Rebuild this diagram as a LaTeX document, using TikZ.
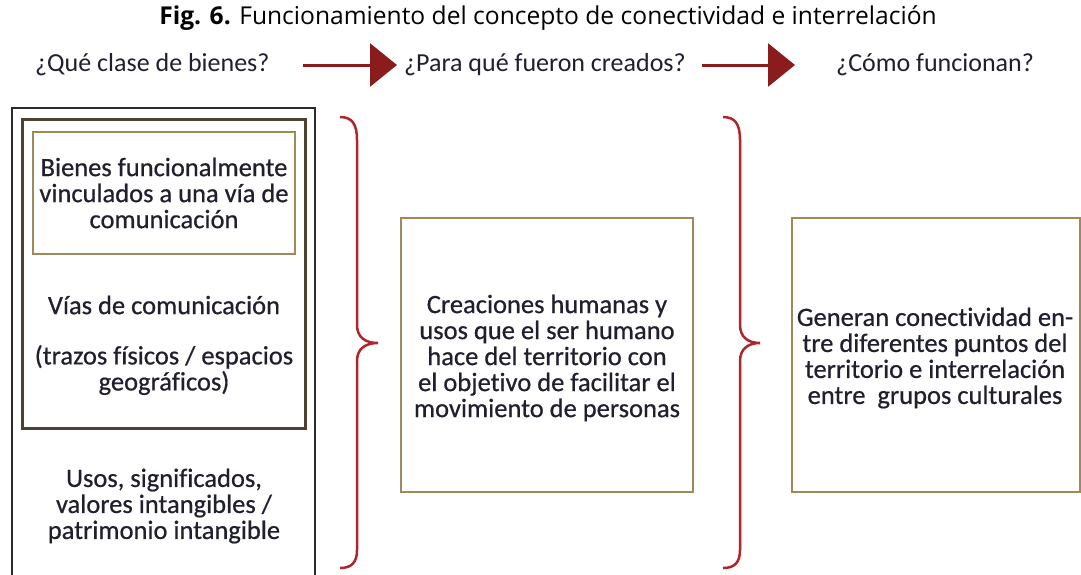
\documentclass[tikz,border=0pt]{standalone}
\usepackage{fontspec}
\setmainfont[Ligatures=NoCommon]{Carlito}
\newfontfamily\bodyfont[FakeBold=0.6, Ligatures=NoCommon]{Carlito}
\newfontfamily\titlefont{Open Sans}
\usetikzlibrary{arrows.meta}
\definecolor{txt}{HTML}{1F1F2E}
\definecolor{gold}{HTML}{A08858}
\definecolor{dkbrown}{HTML}{4B4232}
\definecolor{outer}{HTML}{2B2B2B}
\definecolor{arrred}{HTML}{8B1C1E}
\definecolor{bracered}{HTML}{B0242C}
\tikzset{
  hdr/.style={inner sep=0pt, anchor=west, text=txt, font=\fontsize{26}{30}\selectfont},
  body/.style={inner sep=0pt, align=center, text=txt, font=\bodyfont\fontsize{26.5}{26}\selectfont},
  goldbox/.style={draw=gold, line width=2.5pt},
  arr/.style={draw=arrred, line width=3pt, -{Triangle[length=27pt, width=43pt]}},
  brace/.style={draw=bracered, line width=2.5pt}
}
\begin{document}
\begin{tikzpicture}[x=1pt, y=-1pt]
\useasboundingbox (0,0) rectangle (1081,574);
\clip (0,0) rectangle (1081,574);
% title
\node[inner sep=0pt, text=black, font=\titlefont\fontsize{24.6}{28}\selectfont] (title) at (548,18) {\textbf{Fig. 6.} Funcionamiento del concepto de conectividad e interrelación};
% header
\node[hdr] (q1) at (35,65) {¿Qué clase de bienes?};
\node[hdr] (q2) at (404,65) {¿Para qué fueron creados?};
\node[hdr] (q3) at (836,65) {¿Cómo funcionan?};
\coordinate (a1s) at (303,65);
\coordinate (a2s) at (702,65);
\draw[arr, shorten >=7pt] (a1s) -- (q2.west);
\draw[arr, shorten >=41pt] (a2s) -- (q3.west);
% left column
\node[draw=outer, line width=2.5pt, minimum width=303pt, minimum height=492pt, inner sep=0pt] (outerbox) at (163.5,354) {};
\node[draw=dkbrown, line width=3pt, minimum width=283pt, minimum height=309pt, inner sep=0pt] (midbox) at (163.5,273.5) {};
\node[goldbox, minimum width=262pt, minimum height=122pt, inner sep=0pt] (inbox) at (164,193) {};
\node[body] (t1) at (inbox) {Bienes funcionalmente\\vinculados a una vía de\\comunicación};
\node[body] (t2) at (164,305) {Vías de comunicación};
\node[body] (t3) at (164,370) {(trazos físicos / espacios\\geográficos)};
\node[body] (t4) at (164,506) {Usos, significados,\\valores intangibles /\\patrimonio intangible};
% middle
\node[goldbox, minimum width=292pt, minimum height=274pt, inner sep=0pt] (mbox) at (547,355) {};
\node[body] (mt) at (547,358) {Creaciones humanas y\\usos que el ser humano\\hace del territorio con\\el objetivo de facilitar el\\movimiento de personas};
% right
\node[goldbox, minimum width=288pt, minimum height=274pt, inner sep=0pt] (rbox) at (936,355) {};
\node[body] (rt) at (935,358) {Generan conectividad en-\\tre diferentes puntos del\\territorio e interrelación\\entre~ grupos culturales};
% braces
\draw[brace] (340,117) .. controls (352,117) and (357,124) .. (357,140) -- (357,325) .. controls (357,337) and (365,343) .. (378,343) .. controls (365,343) and (357,349) .. (357,361) -- (357,550) .. controls (357,562) and (352,568) .. (340,568);
\draw[brace] (723,117) .. controls (735,117) and (740,124) .. (740,140) -- (740,325) .. controls (740,337) and (748,343) .. (760,343) .. controls (748,343) and (740,349) .. (740,361) -- (740,550) .. controls (740,562) and (735,568) .. (723,568);
\end{tikzpicture}
\end{document}
